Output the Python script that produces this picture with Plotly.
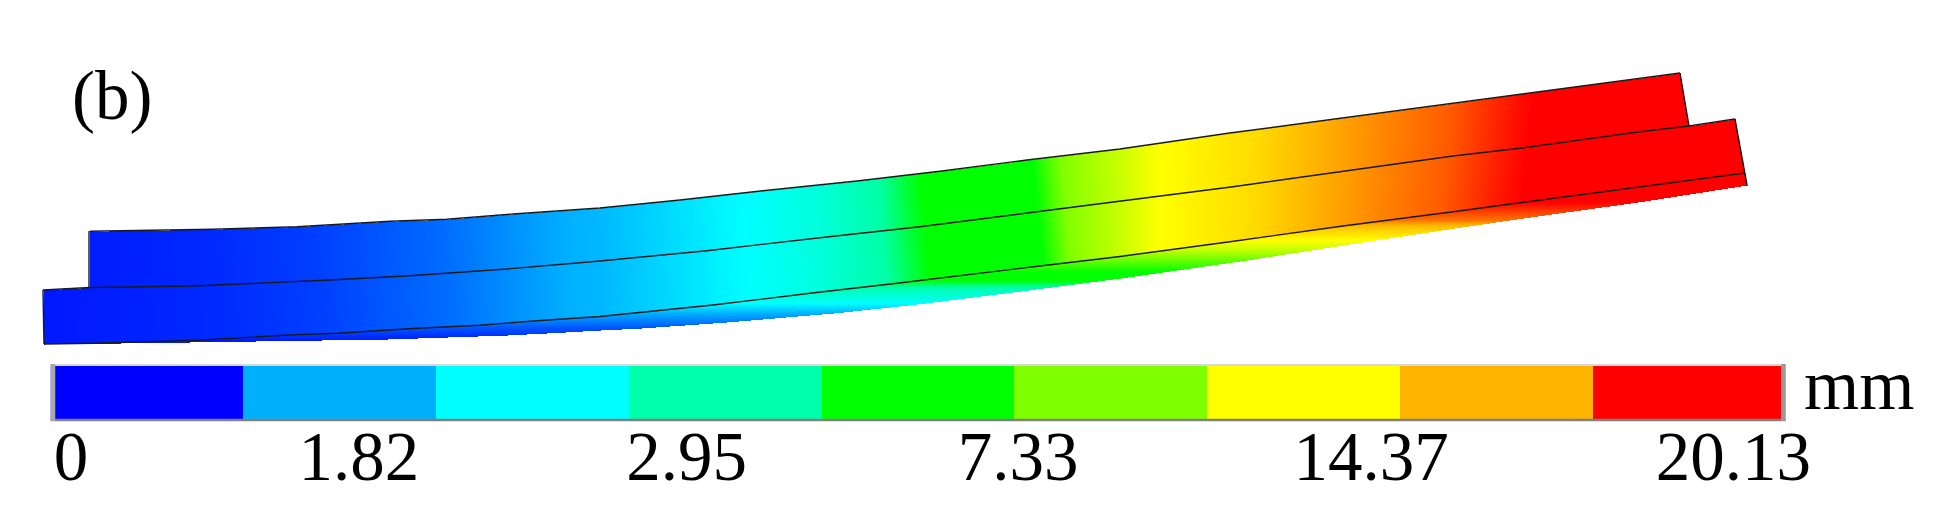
import numpy as np
import plotly.graph_objects as go

# Beam geometry (axis units)
top_x = [90, 213, 297, 390, 447, 513, 600, 680, 763, 857, 942, 1027, 1120, 1228, 1333, 1460, 1550, 1640, 1680]
top_y = [231.3, 229.3, 226.7, 221.3, 219.3, 214, 208, 200, 190.7, 181, 171, 160, 149, 133.3, 119.3, 102.3, 90, 78.3, 73]
mid_x = [43, 90, 193, 270, 330, 410, 503, 600, 707, 820, 920, 1033, 1120, 1233, 1340, 1453, 1520, 1640, 1689, 1735]
mid_y = [290, 287.5, 286, 282.7, 280, 275.7, 269.3, 261, 250.7, 237.7, 226.7, 212.3, 201, 186.7, 171.7, 156, 148.3, 131.7, 126, 119]
low_x = [44, 93, 203, 283, 337, 417, 480, 537, 600, 713, 810, 897, 1040, 1120, 1230, 1343, 1453, 1553, 1640, 1745]
low_y = [344, 343.3, 340, 335.3, 333.3, 328.3, 325.3, 320.7, 316.5, 305, 293.3, 283.3, 266, 256.5, 241.7, 226, 211.7, 198.3, 187.3, 173]
under_x = [44, 143, 387, 507, 560, 600, 637, 723, 837, 923, 1023, 1120, 1253, 1353, 1450, 1537, 1640, 1747]
under_y = [344, 342.7, 339, 335, 332.3, 330, 328.3, 322.3, 312.7, 303.3, 290.7, 278, 259, 243.5, 228.7, 216, 201.7, 185]
top_left_x, top_left_y = [89, 89], [287, 231]
top_right_x, top_right_y = [1680, 1689], [73, 126]
low_left_x, low_left_y = [43, 44], [290, 344]
low_right_x, low_right_y = [1735, 1747], [119, 185]

# Colour level (legend band number) along the beam and on its underside
station_x = [44, 200, 320, 447, 520, 600, 745, 817, 883, 925, 1037, 1065, 1120, 1160, 1253, 1313, 1387, 1447, 1497, 1527, 1747]
station_level = [0.14, 0.22, 0.36, 0.62, 0.85, 1.1, 2, 2.4, 3.05, 4, 4, 5, 5.57, 6, 6.47, 7, 7.28, 7.5, 7.83, 8, 8]
under_depth_y = [202, 210, 220, 230, 240, 250, 257, 263, 272, 280, 287, 303, 313, 327, 340]
under_depth_level = [8, 7.7, 7.35, 6.6, 6, 5.5, 5, 4.6, 4, 4, 3, 2, 1, 0.5, 0.15]
tilt_x = [44, 800, 915, 1050, 1160, 1450, 1747]
tilt_value = [0.04, 0.04, 0.1, 0.1, 0, -0.1, -0.1]

# Legend
band_colors = ["#0000ff", "#00b0ff", "#00ffff", "#00ffaa", "#00ff00",
               "#80ff00", "#ffff00", "#ffb400", "#ff0000"]
band_levels = [0, 1, 2, 3, 4, 5, 6, 7, 8]
tick_pos = [0.106, 1.6, 3.3, 5.02, 6.85, 8.73]
tick_text = ["0", "1.82", "2.95", "7.33", "14.37", "20.13"]
colorscale = [[i / 8, c] for i, c in enumerate(band_colors)]

W, H = 1938, 531
SERIF = "Liberation Serif"

# Displacement field on a fine grid, masked to the beam outline
gx = np.arange(40, 1750, dtype=float)
gy = np.arange(65, 350, dtype=float)
outline_x = np.array(mid_x[:2] + [89.5] + top_x + top_right_x[1:] + low_right_x)
outline_y = np.array(mid_y[:2] + [231.3] + top_y + top_right_y[1:] + low_right_y)
order_ok = np.concatenate(([True], np.diff(outline_x) > 0))
upper = np.interp(gx, outline_x[order_ok], outline_y[order_ok])
lower = np.interp(gx, under_x, under_y)
line3 = np.interp(gx, low_x, low_y)
midl = np.interp(gx, mid_x, mid_y)
tilt = np.interp(gx, tilt_x, tilt_value)
X, Y = np.meshgrid(gx, gy)
U = X - tilt[None, :] * (Y - midl[None, :])
Z = np.interp(U, station_x, station_level)
below = Y > line3[None, :]
Zu = np.interp(Y, under_depth_y, under_depth_level)
Z = np.where(below, Zu, Z)
inside = (Y >= upper[None, :]) & (Y <= lower[None, :]) & (X >= 44) & (X <= 1747)
Z = np.where(inside, Z, np.nan).astype("float32")

fig = go.Figure()
fig.add_trace(go.Heatmap(x=gx, y=gy, z=Z, colorscale=colorscale, zmin=0, zmax=8,
                         showscale=False, hoverinfo="skip", xaxis="x", yaxis="y"))
for xs, ys in [(top_x, top_y), (top_left_x, top_left_y), (top_right_x, top_right_y),
               (mid_x, mid_y), (low_x, low_y), (low_left_x, low_left_y),
               (low_right_x, low_right_y)]:
    fig.add_trace(go.Scatter(x=xs, y=ys, mode="lines", showlegend=False, hoverinfo="skip",
                             line=dict(color="#1a1a1a", width=1.4), xaxis="x", yaxis="y"))

# Legend strip
fig.add_trace(go.Heatmap(x=[v + 0.5 for v in band_levels], y=[0], z=[band_levels],
                         colorscale=colorscale, zmin=0, zmax=8, showscale=False,
                         hoverinfo="skip", xaxis="x2", yaxis="y2"))

def edge(x0, y0, x1, y1, color, width):
    return dict(type="line", xref="x", yref="y", x0=x0, y0=y0, x1=x1, y1=y1,
                line=dict(color=color, width=width))

fig.update_layout(
    width=W, height=H, margin=dict(l=0, r=0, t=0, b=0, autoexpand=False),
    paper_bgcolor="white", plot_bgcolor="rgba(0,0,0,0)", showlegend=False,
    xaxis=dict(range=[0, W], domain=[0, 1], visible=False, fixedrange=True),
    yaxis=dict(range=[H, 0], domain=[0, 1], visible=False, fixedrange=True),
    xaxis2=dict(anchor="y2", domain=[50.5 / W, 1785.5 / W], range=[0, 9], tickmode="array",
                tickvals=tick_pos, ticktext=tick_text, ticks="", ticklabelstandoff=-11,
                showgrid=False, zeroline=False, showline=False, automargin=False,
                tickfont=dict(family=SERIF, size=69, color="black"), fixedrange=True),
    yaxis2=dict(anchor="x2", domain=[1 - 420.5 / H, 1 - 364.5 / H], range=[-0.5, 0.5],
                visible=False, fixedrange=True),
    annotations=[
        dict(x=112, y=96, xref="x", yref="y", text="(b)", showarrow=False,
             font=dict(family=SERIF, size=69, color="black")),
        dict(x=1859, y=385, xref="x", yref="y", text="mm", showarrow=False,
             font=dict(family=SERIF, size=71, color="black")),
    ],
    shapes=[
        edge(50.5, 365, 1785.5, 365, "#d8d8d8", 2),
        edge(50.5, 420, 1785.5, 420, "#808080", 2.5),
        edge(53, 364, 53, 421, "#a8a8a8", 4.5),
        edge(1783.3, 364, 1783.3, 421, "#999999", 4.5),
    ],
)
fig.write_html("out.html", config=dict(displayModeBar=False),
               post_script="document.body.style.margin='0';")
